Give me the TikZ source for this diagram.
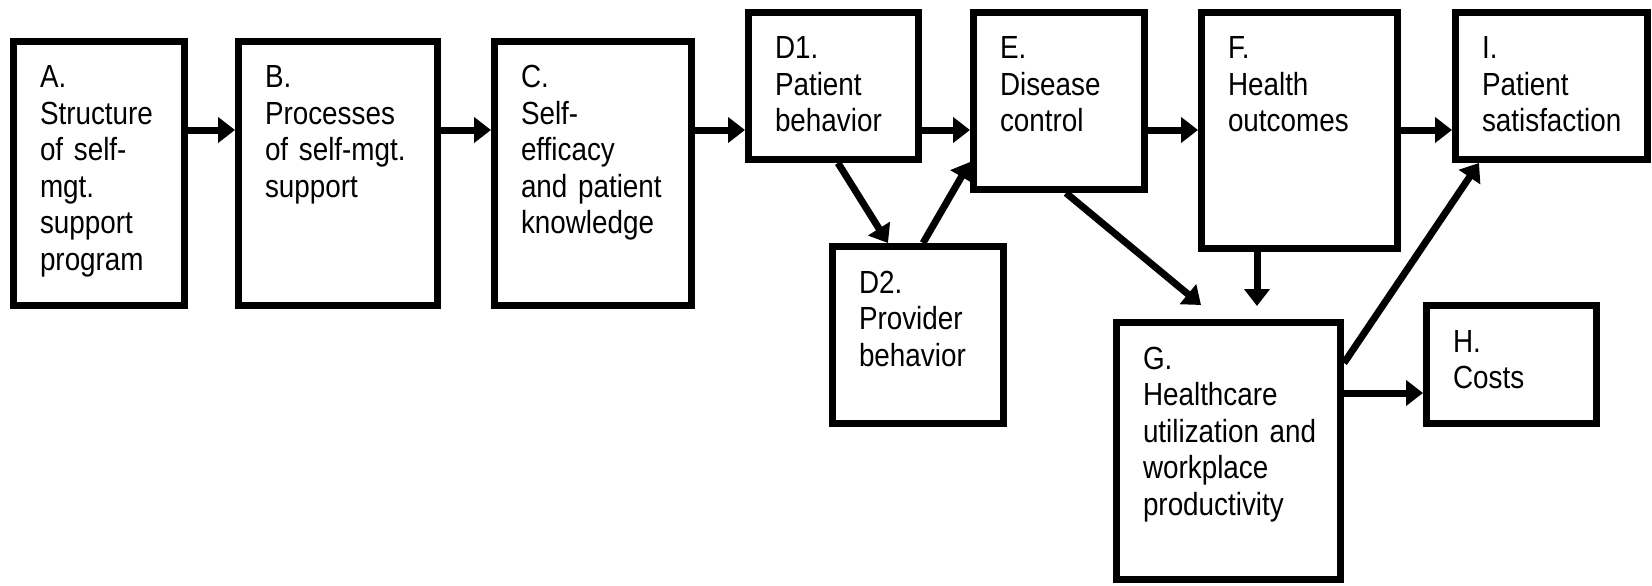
\documentclass[tikz,border=0pt]{standalone}
\usepackage{fontspec}
\setmainfont{Liberation Sans}[FakeStretch=0.87,WordSpace=0.87]
\usetikzlibrary{arrows.meta}
\newcommand{\tx}[1]{\mbox{#1}}
\begin{document}
\begin{tikzpicture}[x=1pt,y=1pt,
  box/.style={draw, line width=7pt, outer sep=3.5pt, inner xsep=26.5pt, inner ysep=23.5pt,
    align=left, anchor=north west, text height=23pt,
    font=\fontsize{32}{36.5}\selectfont},
  arr/.style={line width=7pt, -{Triangle[length=17pt,width=25pt]}}]
\useasboundingbox (0,0) rectangle (1652,-586);
\fill[white] (0,0) rectangle (1652,-586);
% boxes
\node[box, text width=118pt, text depth=194pt] (A) at (10,-38)
  {\tx{A.}\\\tx{Structure}\\\tx{of self-}\\\tx{mgt.}\\\tx{support}\\\tx{program}};
\node[box, text width=146pt, text depth=194pt] (B) at (235,-38)
  {\tx{B.}\\\tx{Processes}\\\tx{of self-mgt.}\\\tx{support}};
\node[box, text width=144pt, text depth=194pt] (C) at (491,-38)
  {\tx{C.}\\\tx{Self-}\\\tx{efficacy}\\\tx{and patient}\\\tx{knowledge}};
\node[box, text width=117pt, text depth=77pt] (D1) at (745,-9)
  {\tx{D1.}\\\tx{Patient}\\\tx{behavior}};
\node[box, text width=118pt, text depth=107pt] (E) at (970,-9)
  {\tx{E.}\\\tx{Disease}\\\tx{control}};
\node[box, text width=143pt, text depth=166pt] (F) at (1198,-9)
  {\tx{F.}\\\tx{Health}\\\tx{outcomes}};
\node[box, text width=139pt, text depth=77pt] (I) at (1452,-9)
  {\tx{I.}\\\tx{Patient}\\\tx{satisfaction}};
\node[box, text width=118pt, text depth=107pt] (D2) at (829,-243)
  {\tx{D2.}\\\tx{Provider}\\\tx{behavior}};
\node[box, text width=171pt, text depth=187pt] (G) at (1113,-319)
  {\tx{G.}\\\tx{Healthcare}\\\tx{utilization and}\\\tx{workplace}\\\tx{productivity}};
\node[box, text width=117pt, text depth=48pt] (H) at (1423,-302)
  {\tx{H.}\\\tx{Costs}};
% connectors
\coordinate (row) at (0,-130);
\draw[arr] (A.east |- row) -- (B.west |- row);
\draw[arr] (B.east |- row) -- (C.west |- row);
\draw[arr] (C.east |- row) -- (D1.west |- row);
\draw[arr] (D1.east |- row) -- (E.west |- row);
\draw[arr] (E.east |- row) -- (F.west |- row);
\draw[arr] (F.east |- row) -- (I.west |- row);
\draw[arr] ([xshift=93pt]D1.south west) -- ([xshift=59pt]D2.north west);
\draw[arr] ([xshift=94pt]D2.north west) -- ([yshift=31pt]E.south west);
\draw[arr] ([xshift=96pt]E.south west) -- ([xshift=88pt,yshift=14pt]G.north west);
\draw[arr] ([xshift=59pt]F.south west) -- ([xshift=144pt,yshift=13pt]G.north west);
\draw[arr] ([yshift=-44pt]G.north east) -- ([xshift=27pt]I.south west);
\draw[arr] ([yshift=-74pt]G.north east) -- ([yshift=-91pt]H.north west);
\end{tikzpicture}
\end{document}
